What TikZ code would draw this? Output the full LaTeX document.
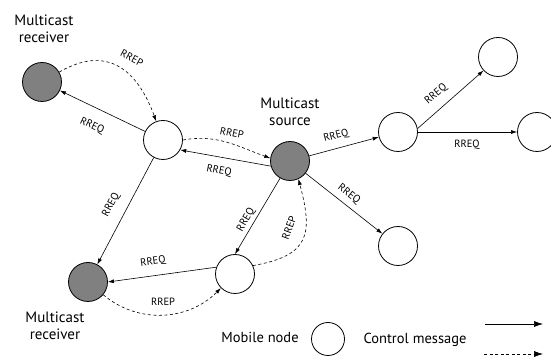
\documentclass[tikz,border=0pt]{standalone}
\usepackage{fontspec}
\setmainfont{PT Sans}
\usepackage{tikz}
\usetikzlibrary{arrows.meta,positioning,calc}

\begin{document}
\begin{tikzpicture}[x=1pt,y=1pt,
  mnode/.style={circle,draw,line width=0.8pt,minimum size=39pt,inner sep=0pt},
  mrecv/.style={mnode,fill=black!50},
  req/.style={line width=0.6pt,-{Latex[length=6pt,width=4pt]}},
  rep/.style={req,dash pattern=on 3pt off 2.5pt},
  lbl/.style={font=\fontsize{10.5}{11}\selectfont,inner sep=0pt},
  title/.style={font=\fontsize{15}{17}\selectfont,align=center,inner sep=0pt}]
\useasboundingbox (0,0) rectangle (551,358);

% Nodes
\node[mrecv] (r1) at (42,276) {};
\node[mnode] (a) at (163,218) {};
\node[mrecv] (s) at (290,197) {};
\node[mnode] (b) at (398,226) {};
\node[mnode] (c) at (498,301) {};
\node[mnode] (d) at (537,226) {};
\node[mnode] (e) at (398,112) {};
\node[mnode] (f) at (235,84) {};
\node[mrecv] (r2) at (88,76) {};

% Titles
\node[title] (t1) at (44,329) {Multicast\\receiver};
\node[title] (t2) at (290,246) {Multicast\\source};
\node[title] (t3) at (55,32) {Multicast\\receiver};

% Route requests
\draw[req] (a) -- (r1);
\draw[req] (s.195) -- (a.-30);
\draw[req] (a) -- (r2);
\draw[req] (s.240) -- (f.90);
\draw[req] (f.160) -- (r2.0);
\draw[req] (s) -- (b);
\draw[req] (b.10) -- (c.223);
\draw[req] (b) -- (d);
\draw[req] (s) -- (e);

% Route replies
\draw[rep] (r1) to[out=30,in=110,looseness=1.3] (a);
\draw[rep] (a.0) to[out=10,in=160] (s.172);
\draw[rep] (f.25) to[out=10,in=-75,looseness=1.5] (s.-65);
\draw[rep] (r2.-40) to[out=-40,in=-135] (f);

% Labels
\node[lbl,rotate=-25] (q1) at (92,232) {RREQ};
\node[lbl,rotate=-28] (p1) at (132,300) {RREP};
\node[lbl,rotate=-12] (p2) at (232,225) {RREP};
\node[lbl,rotate=-11] (q2) at (219,187) {RREQ};
\node[lbl,rotate=62] (q3) at (111,153) {RREQ};
\node[lbl,rotate=60] (q4) at (246,138) {RREQ};
\node[lbl,rotate=70] (p3) at (289,130) {RREP};
\node[lbl,rotate=8] (q5) at (153,96) {RREQ};
\node[lbl] (p4) at (163,56) {RREP};
\node[lbl,rotate=15] (q6) at (336,222) {RREQ};
\node[lbl,rotate=40] (q7) at (436,264) {RREQ};
\node[lbl] (q8) at (467,213) {RREQ};
\node[lbl,rotate=-38] (q9) at (349,164) {RREQ};

% Legend
\node[font=\fontsize{14.5}{16}\selectfont] (lm) at (260,21) {Mobile node};
\node[mnode,minimum size=33pt] (lc) at (328,19) {};
\node[font=\fontsize{14.5}{16}\selectfont] (lt) at (415,18) {Control message};
\coordinate (ls1) at (485,34);
\coordinate (ls2) at (543,34);
\coordinate (ld1) at (484,4);
\coordinate (ld2) at (543,4);
\draw[req,-{Latex[length=9pt,width=6pt]}] (ls1) -- (ls2);
\draw[rep,-{Latex[length=9pt,width=6pt]}] (ld1) -- (ld2);
\end{tikzpicture}
\end{document}
